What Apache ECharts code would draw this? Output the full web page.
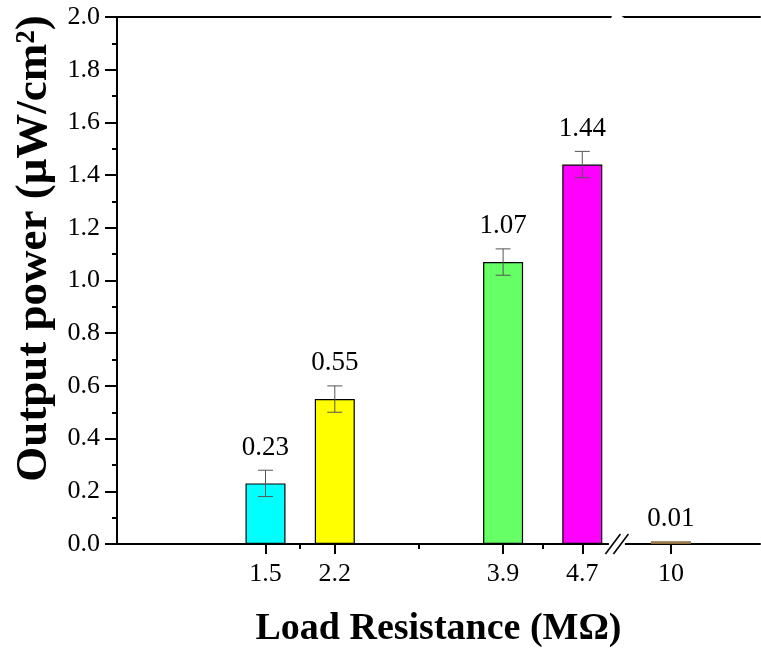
<!DOCTYPE html>
<html>
<head>
<meta charset="utf-8">
<script src="https://cdn.jsdelivr.net/npm/echarts@6/dist/echarts.min.js"></script>
<style>
  html, body { margin: 0; padding: 0; background: #fff; }
  #chart { width: 761px; height: 649px; }
</style>
</head>
<body>
<div id="chart"></div>
<script>
// load resistance (MOhm), measured output power and error
const resistances = [1.5, 2.2, 3.9, 4.7, 10];
const powers = [0.23, 0.55, 1.07, 1.44, 0.01];
const errors = [0.05, 0.05, 0.05, 0.05, 0];
const barColors = ['#00FFFF', '#FFFF00', '#66FF66', '#FF00FF', '#D2B48C'];
const minorTicks = [1.85, 3.05, 4.3];
const axisBreak = [4.99, 9.515];

const FONT = '"Liberation Serif", "Times New Roman", serif';

const chart = echarts.init(document.getElementById('chart'));

const barData = resistances.map((r, i) => ({
  value: [r, powers[i]],
  itemStyle: { color: barColors[i], borderColor: i === 4 ? '#8B6B3D' : '#000' }
}));

const errData = resistances.map((r, i) => [r, powers[i], errors[i]]);

const breakCfg = [{ start: axisBreak[0], end: axisBreak[1], gap: 0.12 }];

const option = {
  animation: false,
  grid: { left: 117, right: 1, top: 17, bottom: 105, outerBoundsMode: 'none', containLabel: false },
  xAxis: [
    {
      type: 'value',
      min: 0,
      max: 10.9,
      breaks: breakCfg,
      breakArea: {
        show: true,
        itemStyle: { color: '#fff', borderColor: 'transparent', opacity: 1 },
        zigzagAmplitude: 0
      },
      name: 'Load Resistance (M\u03A9)',
      nameLocation: 'middle',
      nameGap: 66,
      nameTextStyle: { fontFamily: FONT, fontSize: 38, fontWeight: 'bold', color: '#000' },
      axisLine: { lineStyle: { color: '#000', width: 2 } },
      axisTick: { customValues: resistances, length: 10, lineStyle: { color: '#000', width: 2 } },
      axisLabel: { customValues: resistances, fontFamily: FONT, fontSize: 26, color: '#000', margin: 17 },
      splitLine: { show: false }
    },
    {
      type: 'value',
      position: 'bottom',
      min: 0,
      max: 10.9,
      breaks: breakCfg,
      breakArea: { show: false },
      axisLine: { show: false },
      axisTick: { customValues: minorTicks, length: 5, lineStyle: { color: '#000', width: 2 } },
      axisLabel: { show: false },
      splitLine: { show: false }
    },
    {
      type: 'value',
      position: 'top',
      min: 0,
      max: 10.9,
      breaks: breakCfg,
      breakArea: { show: false },
      axisLine: { show: true, lineStyle: { color: '#000', width: 2 } },
      axisTick: { show: false },
      axisLabel: { show: false },
      splitLine: { show: false }
    }
  ],
  yAxis: {
    type: 'value',
    min: 0,
    max: 2,
    interval: 0.2,
    name: 'Output power (\u03BCW/cm\u00B2)',
    nameLocation: 'middle',
    nameGap: 60,
    nameTextStyle: { fontFamily: FONT, fontSize: 45, fontWeight: 'bold', color: '#000', padding: [0, 0, 0, 64] },
    axisLine: { show: true, lineStyle: { color: '#000', width: 2 } },
    axisTick: { length: 12, lineStyle: { color: '#000', width: 2 } },
    minorTick: { show: true, splitNumber: 2, length: 5, lineStyle: { color: '#000', width: 2 } },
    axisLabel: { fontFamily: FONT, fontSize: 26, color: '#000', margin: 17, formatter: v => v.toFixed(1) },
    splitLine: { show: false }
  },
  series: [
    {
      type: 'bar',
      xAxisIndex: 0,
      data: barData,
      barWidth: 40,
      itemStyle: { borderWidth: 1.2 }
    },
    {
      type: 'custom',
      xAxisIndex: 0,
      z: 5,
      data: errData,
      renderItem: function (params, api) {
        const x = api.value(0), y = api.value(1), e = api.value(2);
        const top = api.coord([x, y + e]);
        const bot = api.coord([x, y - e]);
        const children = [];
        if (e > 0) {
          children.push(
            { type: 'line', shape: { x1: top[0], y1: top[1], x2: bot[0], y2: bot[1] }, style: { stroke: '#555', lineWidth: 1 } },
            { type: 'line', shape: { x1: top[0] - 7.5, y1: top[1], x2: top[0] + 7.5, y2: top[1] }, style: { stroke: '#555', lineWidth: 1 } },
            { type: 'line', shape: { x1: bot[0] - 7.5, y1: bot[1], x2: bot[0] + 7.5, y2: bot[1] }, style: { stroke: '#555', lineWidth: 1 } }
          );
        }
        children.push({
          type: 'text',
          style: {
            x: top[0], y: top[1] - 9,
            text: y.toFixed(2),
            textAlign: 'center', textVerticalAlign: 'bottom',
            font: '27px ' + FONT, fill: '#000'
          }
        });
        return { type: 'group', children: children };
      }
    }
  ]
};

chart.setOption(option);

// "//" break marker on the bottom axis
const p0 = chart.convertToPixel({ xAxisIndex: 0, yAxisIndex: 0 }, [axisBreak[0], 0]);
const p1 = chart.convertToPixel({ xAxisIndex: 0, yAxisIndex: 0 }, [axisBreak[1], 0]);
const cx = (p0[0] + p1[0]) / 2, cy = p0[1];
chart.setOption({
  graphic: [
    { type: 'rect', shape: { x: cx - 8, y: cy - 2, width: 16, height: 4 }, style: { fill: '#fff' }, z: 100 },
    { type: 'line', shape: { x1: cx - 11.5, y1: cy + 10, x2: cx + 3.5, y2: cy - 10 }, style: { stroke: '#000', lineWidth: 1.6 }, z: 101 },
    { type: 'line', shape: { x1: cx - 3.5, y1: cy + 10, x2: cx + 11.5, y2: cy - 10 }, style: { stroke: '#000', lineWidth: 1.6 }, z: 101 }
  ]
});
</script>
</body>
</html>
